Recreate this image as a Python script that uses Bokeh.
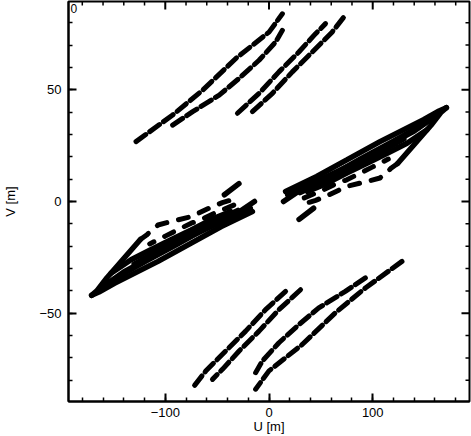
import math
from bokeh.plotting import figure
from bokeh.models import (Range1d, SingleIntervalTicker,
                          CustomJSTickFormatter, Label, ColumnDataSource)
from bokeh.embed import file_html
from bokeh.resources import INLINE

# ---- UV tracks (metres); each also appears mirrored (-u,-v)
# long baselines, upper-left group
a1_u = [-128.2, -92.9, -64.0, -32.0, 0.0, 12.9]
a1_v = [26.8, 38.7, 49.8, 64.0, 75.8, 84.0]
a2_u = [-92.9, -73.6, -48.0, -28.8, -9.6, 6.4, 12.9]
a2_v = [34.2, 40.2, 47.6, 55.1, 63.2, 71.4, 76.6]
b1_u = [-30.4, -9.6, 9.6, 28.8, 44.9, 54.5]
b1_v = [39.5, 48.4, 58.0, 66.9, 75.1, 79.6]
b2_u = [-16.0, 3.3, 22.5, 41.7, 61.0, 72.1]
b2_v = [40.2, 48.4, 58.0, 66.9, 75.9, 82.5]

# short baselines, central group (solid-looking, dense)
c_top_u = [16, 46, 75, 107, 149, 164, 171]
c_top_v = [4.5, 11.2, 18.6, 26.8, 36.6, 40.5, 42.0]
c_tip_u = [171, 166, 156, 140, 124]
c_tip_v = [42.0, 40.0, 34.0, 25.5, 17.0]
c_mid_u = [37, 53, 75, 95, 114, 133, 152]
c_mid_v = [4.5, 7.5, 12.7, 17.2, 21.6, 26.1, 32.0]
c_fill_u = [18, 50, 80, 110, 140, 160]
c_fill_v = [3.0, 10.0, 16.5, 24.0, 31.5, 38.0]
c_fill2_u = [40, 65, 90, 120, 145]
c_fill2_v = [7.0, 13.0, 19.5, 27.0, 33.5]
c_fill3_u = [30, 60, 85, 105, 130]
c_fill3_v = [4.0, 10.5, 16.0, 21.5, 28.0]
c_blob_u = [14, 30]
c_blob_v = [0.0, 5.0]
c_h_u = [29, 43]
c_h_v = [-8.0, -3.0]

# central group, dashed tracks
c_low_u = [124, 118, 107, 95, 75, 58, 45, 34]
c_low_v = [17.0, 15.0, 10.5, 9.0, 6.8, 3.0, 0.5, -1.0]
c_row_u = [34, 53, 66, 75, 88, 100, 115]
c_row_v = [1.6, 5.3, 8.3, 9.7, 12.7, 15.5, 19.0]

# frame ticks (for the top and right edges)
u_major = [-100, 0, 100]
u_minor = [-180, -160, -140, -120, -80, -60, -40, -20,
           20, 40, 60, 80, 120, 140, 160, 180]
v_major = [-50, 0, 50]
v_minor = [-80, -70, -60, -40, -30, -20, -10,
           10, 20, 30, 40, 60, 70, 80]

long_tracks = [(a1_u, a1_v), (a2_u, a2_v), (b1_u, b1_v), (b2_u, b2_v)]
solid_tracks = [(c_top_u, c_top_v), (c_tip_u, c_tip_v), (c_mid_u, c_mid_v),
                (c_fill_u, c_fill_v), (c_fill2_u, c_fill2_v),
                (c_fill3_u, c_fill3_v),
                (c_blob_u, c_blob_v), (c_h_u, c_h_v)]
dash_tracks = [(c_low_u, c_low_v), (c_row_u, c_row_v)]


def with_conjugates(tracks):
    xs, ys = [], []
    for u, v in tracks:
        xs.append(list(u))
        ys.append(list(v))
        xs.append([-a for a in u])
        ys.append([-b for b in v])
    return ColumnDataSource(dict(xs=xs, ys=ys))


FONT = "Liberation Sans"
X0, X1 = -193.3, 193.3
Y0, Y1 = -89.5, 89.5

p = figure(width=471, height=436,
           x_range=Range1d(X0, X1), y_range=Range1d(Y0, Y1),
           output_backend="svg", toolbar_location=None,
           min_border_left=67, min_border_right=2, min_border_top=1,
           min_border_bottom=0)
p.background_fill_color = "white"
p.border_fill_color = "white"
p.outline_line_color = "black"
p.outline_line_width = 2
p.xgrid.visible = False
p.ygrid.visible = False

fmt = CustomJSTickFormatter(code="return (tick < 0) ? '\u2212' + Math.abs(tick) : String(tick);")


def style_axis(ax):
    ax.major_tick_in = 8
    ax.major_tick_out = 0
    ax.minor_tick_in = 4
    ax.minor_tick_out = 0
    ax.axis_line_color = "black"
    ax.axis_line_width = 2
    ax.major_tick_line_width = 2
    ax.minor_tick_line_width = 1.5
    ax.major_tick_line_color = "black"
    ax.minor_tick_line_color = "black"
    ax.major_label_text_font = FONT
    ax.major_label_text_color = "black"
    ax.major_label_text_font_size = "13px"
    ax.formatter = fmt
    ax.axis_label_text_font = FONT
    ax.axis_label_text_font_style = "normal"
    ax.axis_label_text_font_size = "13px"
    ax.axis_label_text_color = "black"


p.xaxis.ticker = SingleIntervalTicker(interval=100, num_minor_ticks=5)
p.yaxis.ticker = SingleIntervalTicker(interval=50, num_minor_ticks=5)
p.xaxis.axis_label = "U [m]"
p.yaxis.axis_label = "V [m]"
for ax in p.xaxis:
    style_axis(ax)
    ax.major_label_standoff = 6
    ax.axis_label_standoff = -1
for ax in p.yaxis:
    style_axis(ax)
    ax.major_label_standoff = 7
    ax.axis_label_standoff = 18

# inward ticks on the top and right edges of the frame
p.scatter(x=u_major, y=[Y1] * len(u_major), marker="dash", angle=math.pi / 2,
          size=16, line_color="black", line_width=2)
p.scatter(x=u_minor, y=[Y1] * len(u_minor), marker="dash", angle=math.pi / 2,
          size=8, line_color="black", line_width=1.5)
p.scatter(x=[X1] * len(v_major), y=v_major, marker="dash",
          size=16, line_color="black", line_width=2)
p.scatter(x=[X1] * len(v_minor), y=v_minor, marker="dash",
          size=8, line_color="black", line_width=1.5)

# tracks
p.multi_line(xs="xs", ys="ys", source=with_conjugates(long_tracks),
             line_color="black", line_width=5, line_cap="round",
             line_dash="12 5")
p.multi_line(xs="xs", ys="ys", source=with_conjugates(solid_tracks),
             line_color="black", line_width=5.5, line_cap="round")
p.multi_line(xs="xs", ys="ys", source=with_conjugates(dash_tracks),
             line_color="black", line_width=5, line_cap="round",
             line_dash="10 12")

p.add_layout(Label(x=X0, y=Y1, x_offset=2, y_offset=-2, text="0",
                   text_baseline="top", text_font=FONT,
                   text_font_size="12px", text_color="black"))

open("out.html", "w").write(file_html(p, INLINE))
